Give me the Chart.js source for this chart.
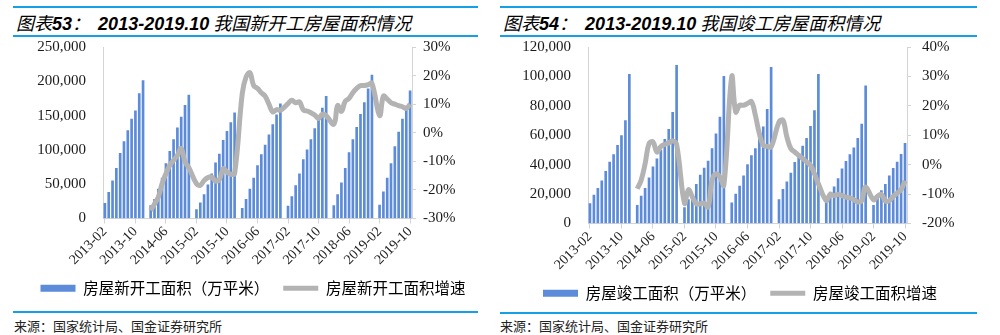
<!DOCTYPE html>
<html>
<head>
<meta charset="utf-8">
<script src="https://cdn.jsdelivr.net/npm/chart.js@4.4.0/dist/chart.umd.min.js"></script>
<style>
  body { margin: 0; width: 1000px; height: 335px; background: #fff; position: relative; overflow: hidden; font-family: "Noto Sans CJK SC", sans-serif; }
  .rule { position: absolute; height: 2px; background: #14a0e2; }
  .title { position: absolute; top: 12px; font-size: 18px; line-height: 20px; font-style: italic; color: #000; white-space: nowrap; }
  .title b { font-family: "Liberation Sans", Arial, sans-serif; }
  .src { position: absolute; top: 318px; font-size: 13px; line-height: 16px; color: #222; white-space: nowrap; }
  .box { position: absolute; }
</style>
</head>
<body>
<div class="rule" style="left:13px;width:465px;top:6px"></div>
<div class="rule" style="left:13px;width:465px;top:35px"></div>
<div class="title" style="left:16px">图表<b>53</b>：&nbsp;&nbsp;<b>2013-2019.10</b> 我国新开工房屋面积情况</div>

<div class="rule" style="left:500px;width:477px;top:6px"></div>
<div class="rule" style="left:500px;width:477px;top:35px"></div>
<div class="title" style="left:503px">图表<b>54</b>：&nbsp;&nbsp;<b>2013-2019.10</b> 我国竣工房屋面积情况</div>

<div class="box" style="left:0;top:21px"><canvas id="Starts" width="490" height="285"></canvas></div>
<div class="box" style="left:495px;top:21px"><canvas id="Completed" width="490" height="290"></canvas></div>

<div class="rule" style="left:13px;width:465px;top:311px"></div>
<div class="src" style="left:14px">来源：国家统计局、国金证券研究所</div>
<div class="rule" style="left:500px;width:477px;top:312px"></div>
<div class="src" style="left:500px">来源：国家统计局、国金证券研究所</div>

<script>
// month categories 2013-02 .. 2019-10 (January is never reported on its own)
var months = [];
for (var yr = 2013; yr <= 2019; yr++) {
  for (var m = 1; m <= 12; m++) {
    if (yr == 2013 && m == 1) continue;
    if (yr == 2019 && m > 10) break;
    months.push(yr + "-" + (m < 10 ? "0" + m : m));
  }
}

// 房屋新开工面积 (万平米), cumulative
var startArea = [
  22000, 38000, 55000, 73000, 95000, 112000, 128000, 145000, 157000, 182000, 201000,
  null, 19000, 28000, 43000, 59000, 80000, 98000, 115000, 132000, 148000, 165000, 180000,
  null, 13000, 23000, 35000, 49000, 65000, 81000, 94000, 114000, 127000, 140000, 154000,
  null, 15000, 28000, 43000, 59000, 77000, 93000, 107000, 122000, 137000, 151000, 167000,
  null, 18000, 32000, 48000, 65000, 86000, 100000, 115000, 131000, 146000, 161000, 178000,
  null, 19000, 35000, 52000, 73000, 96000, 115000, 133000, 152000, 169000, 189000, 209000,
  null, 19500, 39000, 59000, 80000, 105000, 126000, 145000, 164000, 186000
];
// 房屋新开工面积增速 (%)
var startGrowth = [
  null, null, null, null, null, null, null, null, null, null, null,
  null, -27.2, -24.9, -22.5, -17.8, -14.3, -11.4, -9.6, -7.9, -5.5, -10.2, -12.2,
  null, -17.8, -18.4, -16.7, -15.7, -15.5, -16.9, -16.4, -12.6, -13.7, -14.5, -14.3,
  null, 13.7, 19.5, 21.0, 16.5, 15.5, 14.0, 12.8, 10.0, 7.3, 8.1, 7.9,
  null, 10.2, 11.4, 10.5, 10.8, 8.0, 7.6, 7.0, 6.2, 5.0, 6.5, 6.0,
  null, 3.0, 9.5, 7.5, 11.0, 12.0, 14.0, 15.5, 16.5, 16.5, 16.8, 17.3,
  null, 6.0, 12.8, 11.8, 10.5, 10.0, 9.5, 9.1, 8.5, 10.0
];

// 房屋竣工面积 (万平米), cumulative
var doneArea = [
  13600, 19300, 23900, 29000, 35400, 41800, 46900, 53100, 59800, 69900, 101400,
  null, 12400, 18600, 23900, 31000, 38600, 43900, 49900, 57200, 64100, 75600, 107500,
  null, 10800, 16300, 19500, 26600, 33000, 37700, 42500, 50900, 60900, 72300, 100000,
  null, 14000, 20000, 25500, 32400, 40000, 46200, 51000, 57200, 65700, 77700, 106100,
  null, 16300, 23200, 28300, 34300, 41600, 46400, 52600, 57900, 66000, 76800, 101500,
  null, 15900, 21400, 25000, 30600, 37200, 42300, 46900, 51500, 57900, 67600, 93600,
  null, 12400, 17000, 22300, 26700, 32400, 37500, 41800, 47100, 54500
];
// 房屋竣工面积增速 (%)
var doneGrowth = [
  null, null, null, null, null, null, null, null, null, null, null,
  null, -8.2, -5.3, 0.3, 7.2, 7.7, 4.3, 6.2, 6.9, 7.4, 8.1, 6.9,
  null, -13.1, -8.5, -11.0, -13.3, -13.3, -13.1, -14.4, -5.3, -3.1, -4.2, -7.0,
  null, 29.9, 17.9, 20.2, 20.2, 20.8, 21.4, 16.8, 10.6, 6.6, 6.2, 6.0,
  null, 14.5, 15.1, 9.4, 5.5, 4.3, 3.2, 2.1, 0.9, -0.2, -3.1, -6.5,
  null, -12.2, -10.1, -10.5, -10.1, -10.5, -11.0, -11.3, -11.9, -12.7, -12.2, -7.6,
  null, -11.9, -10.8, -10.1, -12.4, -12.2, -10.8, -9.7, -8.5, -5.5
];

var barColor = "#5b8bd9";
var lineColor = "#b3b3b3";
var axisColor = "#d4d4d4";
var tickFont = {family: "Liberation Serif", size: 15};

function makeChart(id, area, growth, barLabel, lineLabel, yMax, yStep, rMin, rMax, padLeft, leftW, rightPad) {
  return new Chart(document.getElementById(id), {
    type: "bar",
    data: {
      labels: months,
      datasets: [{
        type: "line",
        label: lineLabel,
        data: growth,
        yAxisID: "y1",
        borderColor: lineColor,
        backgroundColor: lineColor,
        borderWidth: 5,
        pointRadius: 0,
        tension: 0.4,
        spanGaps: true
      }, {
        label: barLabel,
        data: area,
        yAxisID: "y",
        backgroundColor: barColor,
        barThickness: 2
      }]
    },
    options: {
      responsive: false,
      animation: false,
      layout: {padding: {left: padLeft, right: 0, top: 9, bottom: 0}},
      plugins: {
        tooltip: {enabled: false},
        legend: {
          position: "bottom",
          labels: {
            usePointStyle: true,
            pointStyleWidth: 35,
            boxHeight: 7,
            padding: 14,
            color: "#333",
            font: {family: "Noto Sans CJK SC", size: 15.5},
            generateLabels: function(chart) {
              return chart.data.datasets.map(function(ds, i) {
                var isLine = ds.type == "line";
                return {
                  text: ds.label,
                  fillStyle: isLine ? lineColor : barColor,
                  strokeStyle: isLine ? lineColor : barColor,
                  lineWidth: isLine ? 5 : 0,
                  pointStyle: isLine ? "line" : "rect",
                  datasetIndex: i,
                  hidden: false
                };
              });
            },
            sort: function(a, b) { return b.datasetIndex - a.datasetIndex; }
          }
        }
      },
      scales: {
        x: {
          offset: true,
          grid: {display: true, drawOnChartArea: false, drawTicks: true, tickLength: 5, color: axisColor, offset: false},
          border: {color: axisColor},
          ticks: {autoSkip: false, maxRotation: 45, minRotation: 45, padding: 0, color: "#222", font: {family: "Liberation Serif", size: 14}},
          afterBuildTicks: function(s) { s.ticks = s.ticks.filter(function(t, i) { return i % 8 == 0; }); },
          afterFit: function(s) { s.height = 48; }
        },
        y: {
          position: "left",
          min: 0, max: yMax,
          grid: {display: true, drawOnChartArea: false, drawTicks: false, color: axisColor},
          border: {color: axisColor},
          ticks: {stepSize: yStep, padding: 17, color: "#1a1a1a", font: tickFont,
            callback: function(v) { return v.toLocaleString("en-US"); }},
          afterFit: function(s) { s.width = leftW; }
        },
        y1: {
          position: "right",
          min: rMin, max: rMax,
          grid: {display: true, drawOnChartArea: false, drawTicks: true, tickLength: 4, color: axisColor},
          border: {color: axisColor},
          ticks: {stepSize: 10, padding: rightPad, color: "#1a1a1a", font: tickFont,
            callback: function(v) { return v + "%"; }},
          afterFit: function(s) { s.width = 78; }
        }
      }
    }
  });
}

makeChart("Starts", startArea, startGrowth, "房屋新开工面积（万平米）", "房屋新开工面积增速", 250000, 50000, -30, 30, 16, 87, 7);
makeChart("Completed", doneArea, doneGrowth, "房屋竣工面积（万平米）", "房屋竣工面积增速", 120000, 20000, -20, 40, 0, 93, 11);
</script>
</body>
</html>
